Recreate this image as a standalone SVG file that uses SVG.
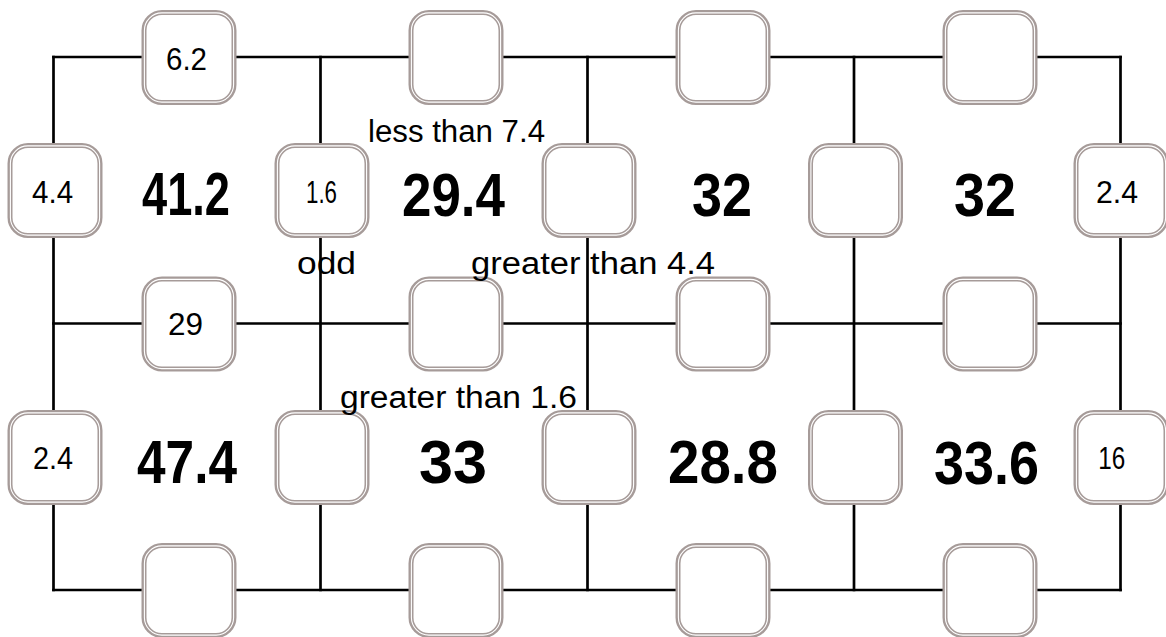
<svg xmlns="http://www.w3.org/2000/svg" width="1166" height="637" viewBox="0 0 1166 637">
<style>
.ln{stroke:#000;stroke-width:2.7;fill:none;stroke-linecap:square}
.bo{fill:#fff;stroke:#a69b99;stroke-width:5}
.bi{fill:none;stroke:#fff;stroke-width:1.1}
.big{font-family:"Liberation Sans",Arial,sans-serif;font-weight:bold;font-size:61px;fill:#000;text-anchor:middle}
.sm{font-family:"Liberation Sans",Arial,sans-serif;font-size:32px;fill:#000;text-anchor:middle}
.lb{font-family:"Liberation Sans",Arial,sans-serif;font-size:31px;fill:#000}
</style>
<defs>
<g id="box">
<rect class="bo" x="-45" y="-45" width="90" height="90" rx="18"/>
<rect class="bi" x="-44.6" y="-44.6" width="89.2" height="89.2" rx="17.5"/>
</g>
</defs>
<rect width="1166" height="637" fill="#fff"/>
<g id="connectors">
<line class="ln" x1="53.5" y1="57" x2="1120.5" y2="57"/>
<line class="ln" x1="53.5" y1="323.5" x2="1120.5" y2="323.5"/>
<line class="ln" x1="53.5" y1="590" x2="1120.5" y2="590"/>
<line class="ln" x1="53.5" y1="57" x2="53.5" y2="590"/>
<line class="ln" x1="320.5" y1="57" x2="320.5" y2="590"/>
<line class="ln" x1="587.5" y1="57" x2="587.5" y2="590"/>
<line class="ln" x1="854" y1="57" x2="854" y2="590"/>
<line class="ln" x1="1120.5" y1="57" x2="1120.5" y2="590"/>
</g>
<g id="node-t1"><use href="#box" x="189" y="57.5"/><text class="sm" x="186.5" y="70" textLength="41" lengthAdjust="spacingAndGlyphs">6.2</text></g>
<g id="node-t2"><use href="#box" x="456" y="57.5"/></g>
<g id="node-t3"><use href="#box" x="723" y="57.5"/></g>
<g id="node-t4"><use href="#box" x="990" y="57.5"/></g>
<g id="node-m1"><use href="#box" x="189" y="324"/><text class="sm" x="185.5" y="335" textLength="35" lengthAdjust="spacingAndGlyphs">29</text></g>
<g id="node-m2"><use href="#box" x="456" y="324"/></g>
<g id="node-m3"><use href="#box" x="723" y="324"/></g>
<g id="node-m4"><use href="#box" x="990" y="324"/></g>
<g id="node-b1"><use href="#box" x="189" y="590.5"/></g>
<g id="node-b2"><use href="#box" x="456" y="590.5"/></g>
<g id="node-b3"><use href="#box" x="723" y="590.5"/></g>
<g id="node-b4"><use href="#box" x="990" y="590.5"/></g>
<g id="node-s11"><use href="#box" x="55" y="190.5"/><text class="sm" x="52.6" y="203" textLength="41" lengthAdjust="spacingAndGlyphs">4.4</text></g>
<g id="node-s12"><use href="#box" x="322" y="190.5"/><text class="sm" x="321.5" y="203" textLength="31" lengthAdjust="spacingAndGlyphs">1.6</text></g>
<g id="node-s13"><use href="#box" x="589" y="190.5"/></g>
<g id="node-s14"><use href="#box" x="855.5" y="190.5"/></g>
<g id="node-s15"><use href="#box" x="1121" y="190.5"/><text class="sm" x="1117" y="203" textLength="42" lengthAdjust="spacingAndGlyphs">2.4</text></g>
<g id="node-s21"><use href="#box" x="55" y="457.5"/><text class="sm" x="53" y="469" textLength="40" lengthAdjust="spacingAndGlyphs">2.4</text></g>
<g id="node-s22"><use href="#box" x="322" y="457.5"/></g>
<g id="node-s23"><use href="#box" x="589" y="457.5"/></g>
<g id="node-s24"><use href="#box" x="855.5" y="457.5"/></g>
<g id="node-s25"><use href="#box" x="1121" y="457.5"/><text class="sm" x="1111.7" y="469" textLength="27" lengthAdjust="spacingAndGlyphs">16</text></g>
<g id="cells">
<text class="big" x="186" y="215" textLength="88" lengthAdjust="spacingAndGlyphs">41.2</text>
<text class="big" x="453.5" y="216" textLength="103" lengthAdjust="spacingAndGlyphs">29.4</text>
<text class="big" x="722" y="216" textLength="60" lengthAdjust="spacingAndGlyphs">32</text>
<text class="big" x="985" y="216" textLength="62" lengthAdjust="spacingAndGlyphs">32</text>
<text class="big" x="187" y="483" textLength="100" lengthAdjust="spacingAndGlyphs">47.4</text>
<text class="big" x="453" y="483" textLength="68" lengthAdjust="spacingAndGlyphs">33</text>
<text class="big" x="723" y="483" textLength="110" lengthAdjust="spacingAndGlyphs">28.8</text>
<text class="big" x="986.5" y="484" textLength="105" lengthAdjust="spacingAndGlyphs">33.6</text>
</g>
<g id="labels">
<text class="lb" x="368" y="142" textLength="177" lengthAdjust="spacingAndGlyphs">less than 7.4</text>
<text class="lb" x="297" y="274" textLength="59" lengthAdjust="spacingAndGlyphs">odd</text>
<text class="lb" x="471" y="274" textLength="244" lengthAdjust="spacingAndGlyphs">greater than 4.4</text>
<text class="lb" x="340" y="408" textLength="237" lengthAdjust="spacingAndGlyphs">greater than 1.6</text>
</g>
</svg>
